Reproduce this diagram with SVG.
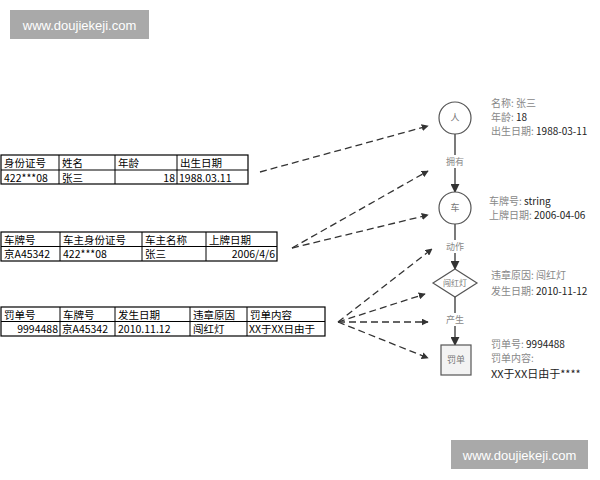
<svg xmlns="http://www.w3.org/2000/svg" width="600" height="480" viewBox="0 0 600 480">
<defs>
<marker id="ah" viewBox="0 0 10 10" refX="9" refY="5" markerWidth="7" markerHeight="7" markerUnits="userSpaceOnUse" orient="auto"><path d="M0,0 L10,5 L0,10 z" fill="#333"/></marker>
<marker id="av" viewBox="0 0 10 10" refX="9" refY="5" markerWidth="9" markerHeight="9" markerUnits="userSpaceOnUse" orient="auto"><path d="M0,0 L10,5 L0,10 z" fill="#333"/></marker>
<style>
.tb{fill:none;stroke:#000;stroke-width:1.2}
.tl{stroke:#000;stroke-width:1}
.tt{font-family:"Noto Sans CJK SC","Liberation Sans",sans-serif;font-size:10.5px;fill:#000}
.r{text-anchor:end}
.d{fill:none;stroke:#333;stroke-width:1.3;stroke-dasharray:7,4;marker-end:url(#ah)}
.v{fill:none;stroke:#333;stroke-width:1.3;marker-end:url(#av)}
.nd{fill:#fff;stroke:#555;stroke-width:1.2}
.nt{font-family:"Noto Sans CJK SC",serif;font-size:9px;fill:#777;text-anchor:middle}
.lb{font-family:"Noto Sans CJK SC",serif;font-size:9px;fill:#888;text-anchor:middle}
.at{font-family:"Noto Sans CJK SC","Liberation Sans",sans-serif;font-size:10px;fill:#888}
.av{fill:#222}
.wm{fill:#a9a9a9}
.wt{font-family:"Liberation Sans",Arial,sans-serif;font-size:13px;fill:#fff;text-anchor:middle}
</style>
</defs>
<rect width="600" height="480" fill="#fff"/>

<g id="watermark-top"><rect class="wm" x="10" y="10" width="139" height="29"/><text class="wt" x="79.5" y="29.5">www.doujiekeji.com</text></g>
<g id="watermark-bottom"><rect class="wm" x="451" y="440" width="137" height="29"/><text class="wt" x="519.5" y="459.5">www.doujiekeji.com</text></g>

<g id="table-person">
<rect class="tb" x="1" y="155" width="247" height="29"/>
<line class="tl" x1="1" y1="170" x2="248" y2="170"/>
<line class="tl" x1="59" y1="155" x2="59" y2="184"/>
<line class="tl" x1="115" y1="155" x2="115" y2="184"/>
<line class="tl" x1="177" y1="155" x2="177" y2="184"/>
<text class="tt" x="4" y="167">身份证号</text><text class="tt" x="62" y="167">姓名</text><text class="tt" x="118" y="167">年龄</text><text class="tt" x="180" y="167">出生日期</text>
<text class="tt" x="4" y="182">422***08</text><text class="tt" x="62" y="182">张三</text><text class="tt r" x="175" y="182">18</text><text class="tt" x="179" y="182">1988.03.11</text>
</g>

<g id="table-car">
<rect class="tb" x="1" y="232" width="276" height="29"/>
<line class="tl" x1="1" y1="246.5" x2="277" y2="246.5"/>
<line class="tl" x1="60" y1="232" x2="60" y2="261"/>
<line class="tl" x1="142" y1="232" x2="142" y2="261"/>
<line class="tl" x1="206" y1="232" x2="206" y2="261"/>
<text class="tt" x="4" y="244">车牌号</text><text class="tt" x="63" y="244">车主身份证号</text><text class="tt" x="145" y="244">车主名称</text><text class="tt" x="209" y="244">上牌日期</text>
<text class="tt" x="4" y="258">京A45342</text><text class="tt" x="63" y="258">422***08</text><text class="tt" x="145" y="258">张三</text><text class="tt r" x="275" y="258">2006/4/6</text>
</g>

<g id="table-ticket">
<rect class="tb" x="1" y="307" width="324" height="29"/>
<line class="tl" x1="1" y1="321.5" x2="325" y2="321.5"/>
<line class="tl" x1="60" y1="307" x2="60" y2="336"/>
<line class="tl" x1="115" y1="307" x2="115" y2="336"/>
<line class="tl" x1="190" y1="307" x2="190" y2="336"/>
<line class="tl" x1="247" y1="307" x2="247" y2="336"/>
<text class="tt" x="4" y="319">罚单号</text><text class="tt" x="63" y="319">车牌号</text><text class="tt" x="118" y="319">发生日期</text><text class="tt" x="193" y="319">违章原因</text><text class="tt" x="250" y="319">罚单内容</text>
<text class="tt r" x="58" y="333">9994488</text><text class="tt" x="62" y="333">京A45342</text><text class="tt" x="118" y="333">2010.11.12</text><text class="tt" x="193" y="333">闯红灯</text><text class="tt" x="249" y="333">XX于XX日由于</text>
</g>

<g id="connectors">
<path class="d" d="M260,172 L428,126"/>
<path class="d" d="M292,248 L428,171"/>
<path class="d" d="M292,248 L428,215"/>
<path class="d" d="M338,322 L432,249"/>
<path class="d" d="M338,322 L425,294"/>
<path class="d" d="M338,322 L428,322"/>
<path class="d" d="M338,322 L428,358"/>
<path class="v" d="M455,134 L455,192"/>
<path class="v" d="M455,224 L455,269"/>
<path class="v" d="M455,297 L455,345"/>
<rect x="443" y="155" width="24" height="13" fill="#fff"/>
<text class="lb" x="455" y="165">拥有</text>
<rect x="443" y="240" width="24" height="13" fill="#fff"/>
<text class="lb" x="455" y="250">动作</text>
<rect x="443" y="313" width="24" height="13" fill="#fff"/>
<text class="lb" x="455" y="323">产生</text>
</g>

<g id="node-person">
<circle class="nd" cx="455" cy="118" r="16"/>
<text class="nt" x="455" y="121">人</text>
<text class="at" x="491" y="107">名称: 张三</text>
<text class="at" x="491" y="121">年龄: <tspan class="av">18</tspan></text>
<text class="at" x="491" y="135">出生日期: <tspan class="av">1988-03-11</tspan></text>
</g>

<g id="node-car">
<circle class="nd" cx="455" cy="208" r="16"/>
<text class="nt" x="455" y="211">车</text>
<text class="at" x="489" y="205">车牌号: <tspan class="av">string</tspan></text>
<text class="at" x="489" y="219">上牌日期: <tspan class="av">2006-04-06</tspan></text>
</g>

<g id="node-violation">
<path class="nd" d="M455,269 L477,283 L455,297 L433,283 Z"/>
<text class="nt" x="455" y="286" style="font-size:8px">闯红灯</text>
<text class="at" x="491" y="279">违章原因: 闯红灯</text>
<text class="at" x="491" y="295">发生日期: <tspan class="av">2010-11-12</tspan></text>
</g>

<g id="node-ticket">
<rect x="441" y="345" width="30" height="30" fill="#f3f3f3" stroke="#555" stroke-width="1.2"/>
<text class="nt" x="456" y="363">罚单</text>
<text class="at" x="491" y="348">罚单号: <tspan class="av">9994488</tspan></text>
<text class="at" x="491" y="362">罚单内容:</text>
<text class="at" x="491" y="378" style="font-size:11px;fill:#222">XX于XX日由于****</text>
</g>
</svg>
